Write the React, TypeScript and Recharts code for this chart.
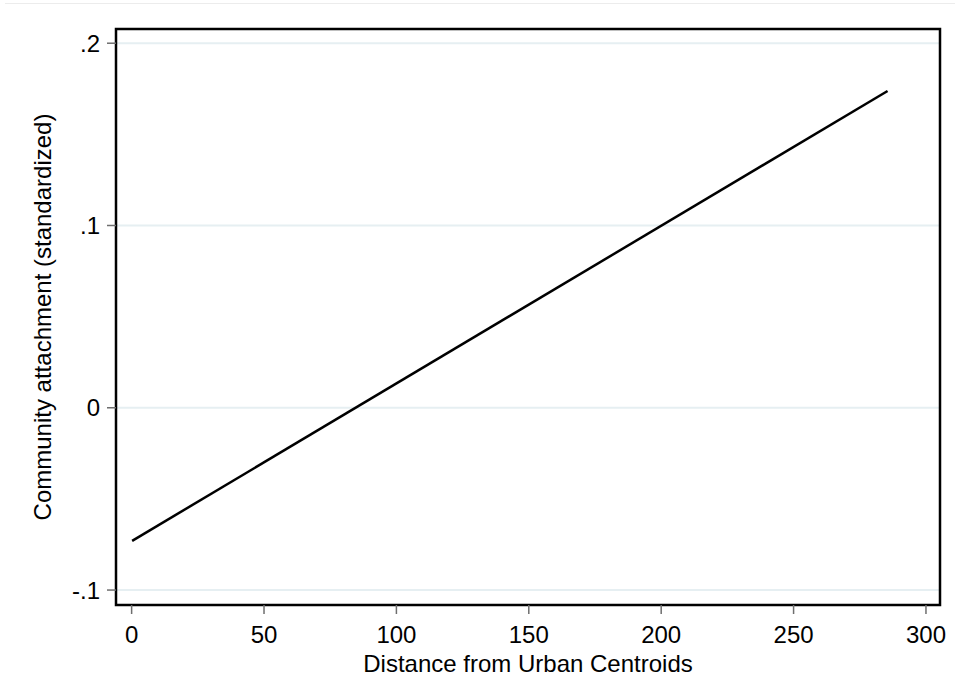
import React from "react";
import {
  LineChart,
  Line,
  XAxis,
  YAxis,
  CartesianGrid,
  ReferenceArea,
} from "recharts";

// fitted line endpoints
const distance = [0.2, 285.5];
const attachment = [-0.073, 0.1738];

const xTicks = [0, 50, 100, 150, 200, 250, 300];
const yTicks = [-0.1, 0, 0.1, 0.2];
const yTickLabels = ["-.1", "0", ".1", ".2"];

const xDomain: [number, number] = [-5.9, 305.3];
const yDomain: [number, number] = [-0.1082, 0.2078];

const data = distance.map((d, i) => ({ distance: d, attachment: attachment[i] }));

const font = "Arial, 'Liberation Sans', Helvetica, sans-serif";
const tickStyle = { fontSize: 24, fill: "#000", fontFamily: font };

const App = () => {
  return (
    <div
      style={{
        position: "absolute",
        left: 0,
        top: 0,
        width: 955,
        height: 696,
        background: "#fff",
      }}
    >
      <div
        style={{
          position: "absolute",
          left: 5,
          right: 0,
          top: 3,
          height: 1,
          background: "#ececec",
        }}
      />
      <LineChart
        width={955}
        height={696}
        data={data}
        margin={{ top: 29, right: 15, left: 36, bottom: 21 }}
      >
        <CartesianGrid
          vertical={false}
          stroke="#e6eff2"
          strokeWidth={2}
        />
        <XAxis
          type="number"
          dataKey="distance"
          domain={xDomain}
          allowDataOverflow
          ticks={xTicks}
          height={70}
          axisLine={false}
          tickLine={{ stroke: "#6e6e6e", strokeWidth: 1.5 }}
          tickSize={9}
          tickMargin={12}
          tick={tickStyle}
          label={{
            value: "Distance from Urban Centroids",
            position: "insideBottom",
            offset: 3,
            style: { fontSize: 24, fill: "#000", fontFamily: font },
          }}
        />
        <YAxis
          type="number"
          domain={yDomain}
          allowDataOverflow
          ticks={yTicks}
          width={80}
          axisLine={false}
          tickLine={{ stroke: "#6e6e6e", strokeWidth: 1.5 }}
          tickSize={9}
          tickMargin={7}
          tick={tickStyle}
          tickFormatter={(v: number) => yTickLabels[yTicks.indexOf(v)] ?? String(v)}
          label={{
            value: "Community attachment (standardized)",
            angle: -90,
            position: "insideLeft",
            offset: 6,
            style: {
              fontSize: 24,
              fill: "#000",
              fontFamily: font,
              textAnchor: "middle",
            },
          }}
        />
        <ReferenceArea
          x1={xDomain[0]}
          x2={xDomain[1]}
          y1={yDomain[0]}
          y2={yDomain[1]}
          fill="none"
          fillOpacity={0}
          stroke="#000"
          strokeWidth={2.5}
          ifOverflow="visible"
        />
        <Line
          type="linear"
          dataKey="attachment"
          stroke="#000"
          strokeWidth={2.5}
          dot={false}
          isAnimationActive={false}
        />
      </LineChart>
    </div>
  );
};

export default App;
